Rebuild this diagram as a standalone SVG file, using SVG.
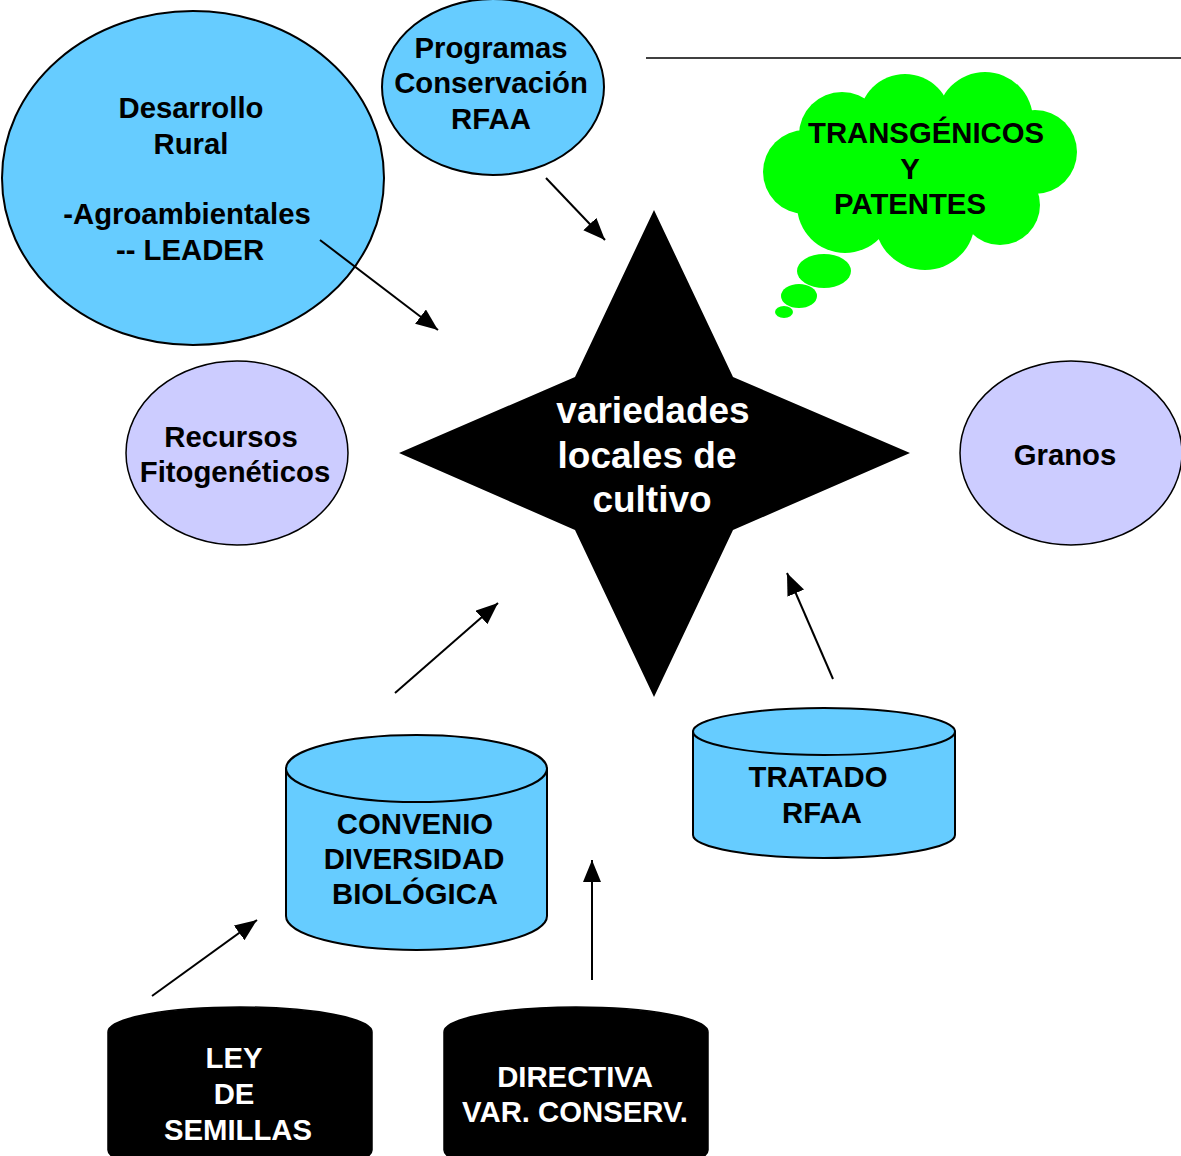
<svg xmlns="http://www.w3.org/2000/svg" width="1181" height="1156" viewBox="0 0 1181 1156">
<defs>
<style>
.lbl{font-family:"Liberation Sans",Arial,sans-serif;font-weight:bold;font-size:29.3px;text-anchor:middle;fill:#000}
.wht{fill:#fff}
.star{font-size:37px}
.blue{fill:#66CCFF;stroke:#000;stroke-width:2}
.lav{fill:#CCCCFF;stroke:#000;stroke-width:1.5}
.blk{fill:#000;stroke:#000;stroke-width:1.5}
.conn line{stroke:#000;stroke-width:2;marker-end:url(#ah)}
.cloud circle,.cloud ellipse{fill:#00FF00}
</style>
<marker id="ah" markerUnits="userSpaceOnUse" markerWidth="24" markerHeight="20" refX="22" refY="9" orient="auto">
<path d="M0,0 L22,9 L0,18 Z" fill="#000"/>
</marker>
</defs>
<rect width="1181" height="1156" fill="#fff"/>

<line x1="646" y1="58" x2="1181" y2="58" stroke="#000" stroke-width="1.5"/>

<g id="desarrollo">
<ellipse class="blue" cx="193" cy="178" rx="191" ry="167"/>
<text class="lbl" x="191" y="118">Desarrollo</text>
<text class="lbl" x="191" y="154">Rural</text>
<text class="lbl" x="187" y="224">-Agroambientales</text>
<text class="lbl" x="190" y="260">-- LEADER</text>
</g>

<g id="programas">
<ellipse class="blue" cx="493" cy="87" rx="111" ry="88"/>
<text class="lbl" x="491" y="58">Programas</text>
<text class="lbl" x="491" y="93">Conservación</text>
<text class="lbl" x="491" y="129">RFAA</text>
</g>

<g id="transgenicos" class="cloud">
<circle cx="842" cy="135" r="43"/>
<circle cx="905" cy="120" r="46"/>
<circle cx="985" cy="120" r="48"/>
<circle cx="1035" cy="152" r="42"/>
<circle cx="1000" cy="205" r="40"/>
<circle cx="925" cy="220" r="50"/>
<circle cx="845" cy="205" r="48"/>
<circle cx="805" cy="172" r="42"/>
<ellipse cx="920" cy="170" rx="120" ry="60"/>
<ellipse cx="824" cy="271" rx="27" ry="17"/>
<ellipse cx="799" cy="296" rx="18" ry="12"/>
<ellipse cx="784" cy="312" rx="9" ry="6"/>
<text class="lbl" x="926" y="143">TRANSGÉNICOS</text>
<text class="lbl" x="910" y="179">Y</text>
<text class="lbl" x="910" y="214">PATENTES</text>
</g>

<g id="variedades">
<polygon points="654,210 733,377 910,453 733,530 654,697 575,530 399,453 575,377" fill="#000"/>
<text class="lbl wht star" x="653" y="423">variedades</text>
<text class="lbl wht star" x="647" y="468">locales de</text>
<text class="lbl wht star" x="652" y="512">cultivo</text>
</g>

<g id="recursos">
<ellipse class="lav" cx="237" cy="453" rx="111" ry="92"/>
<text class="lbl" x="231" y="447">Recursos</text>
<text class="lbl" x="235" y="482">Fitogenéticos</text>
</g>

<g id="granos">
<ellipse class="lav" cx="1071" cy="453" rx="111" ry="92"/>
<text class="lbl" x="1065" y="465">Granos</text>
</g>

<g id="convenio">
<path class="blue" d="M286,768.5 V916 A130.5,34 0 0 0 547,916 V768.5 Z"/>
<ellipse class="blue" cx="416.5" cy="768.5" rx="130.5" ry="33.5"/>
<text class="lbl" x="415" y="834">CONVENIO</text>
<text class="lbl" x="414" y="869">DIVERSIDAD</text>
<text class="lbl" x="415" y="904">BIOLÓGICA</text>
</g>

<g id="tratado">
<path class="blue" d="M693,731.5 V835 A131,23 0 0 0 955,835 V731.5 Z"/>
<ellipse class="blue" cx="824" cy="731.5" rx="131" ry="23.5"/>
<text class="lbl" x="818" y="787">TRATADO</text>
<text class="lbl" x="822" y="823">RFAA</text>
</g>

<g id="ley">
<path class="blk" d="M108,1032 A132,25 0 0 1 372,1032 V1150 A132,25 0 0 1 108,1150 Z"/>
<text class="lbl wht" x="234" y="1068">LEY</text>
<text class="lbl wht" x="234" y="1104">DE</text>
<text class="lbl wht" x="238" y="1140">SEMILLAS</text>
</g>

<g id="directiva">
<path class="blk" d="M444,1032 A132,25 0 0 1 708,1032 V1150 A132,25 0 0 1 444,1150 Z"/>
<text class="lbl wht" x="575" y="1087">DIRECTIVA</text>
<text class="lbl wht" x="575" y="1122">VAR. CONSERV.</text>
</g>

<g id="connectors" class="conn">
<line x1="320" y1="240" x2="438" y2="330"/>
<line x1="546" y1="178" x2="605" y2="240"/>
<line x1="395" y1="693" x2="498" y2="603"/>
<line x1="833" y1="679" x2="787" y2="573"/>
<line x1="152" y1="996" x2="257" y2="920"/>
<line x1="592" y1="980" x2="592" y2="860"/>
</g>
</svg>
